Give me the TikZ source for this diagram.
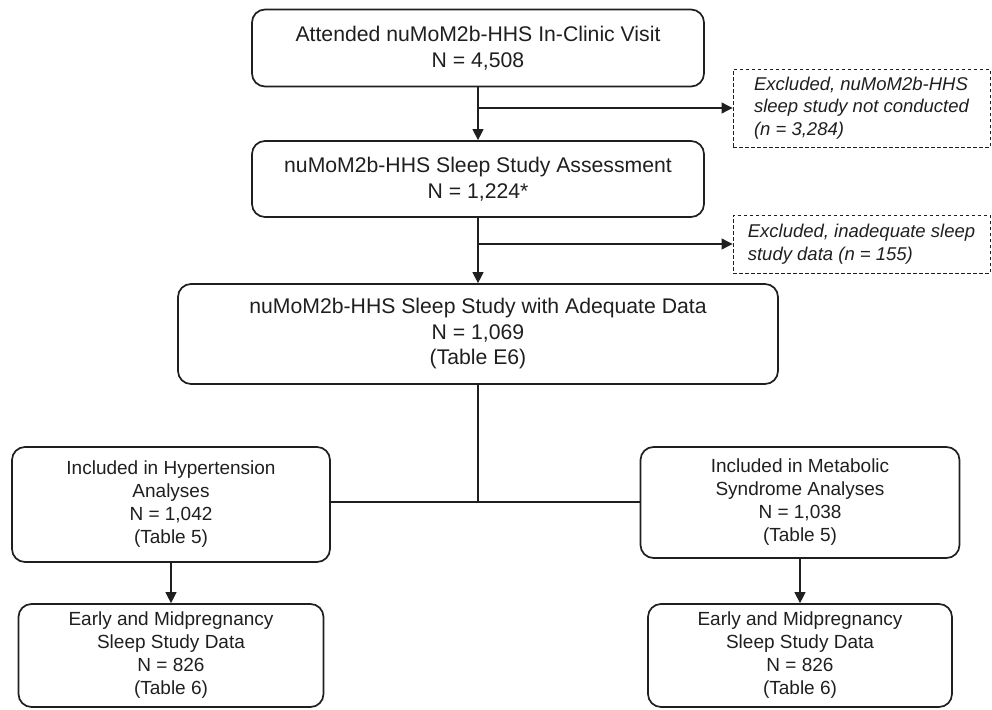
\documentclass[tikz,border=0pt]{standalone}
\usepackage{fontspec}
\setmainfont{Liberation Sans}
\usetikzlibrary{arrows.meta}
\begin{document}
\begin{tikzpicture}[x=1pt,y=-1pt,
  box/.style={draw=black!88, line width=1.7pt, rounded corners=13pt, inner sep=0pt, align=center, text=black!88},
  big/.style={font=\fontsize{21.2}{25.5}\selectfont},
  small/.style={font=\fontsize{19}{23}\selectfont},
  excl/.style={draw=black!88, line width=0.9pt, dash pattern=on 3.5pt off 2.5pt, inner sep=0pt, minimum width=257pt, align=left, text=black!88, font=\itshape\fontsize{18.5}{22.5}\selectfont},
  link/.style={draw=black!88, line width=1.1pt},
  arr/.style={link, -{Triangle[length=11pt,width=11pt]}}]
\useasboundingbox (0,0) rectangle (992,709);

\node[box,big,minimum width=452pt,minimum height=77pt] (visit) at (478,48)
  {Attended nuMoM2b-HHS In-Clinic Visit\\N = 4,508};
\node[box,big,minimum width=452pt,minimum height=76pt] (assess) at (478,179)
  {nuMoM2b-HHS Sleep Study Assessment\\N = 1,224*};
\node[box,big,minimum width=600pt,minimum height=100pt] (adequate) at (478,334)
  {nuMoM2b-HHS Sleep Study with Adequate Data\\N = 1,069\\(Table E6)};

\node[excl,minimum height=78pt] (ex1) at (861.5,108)
  {Excluded, nuMoM2b-HHS\\sleep study not conducted\\(n = 3,284)};
\node[excl,minimum height=58pt] (ex2) at (861.5,244)
  {Excluded, inadequate sleep\\study data (n = 155)};

\node[box,small,minimum width=318pt,minimum height=115pt] (hyp) at (171,504.5)
  {Included in Hypertension\\Analyses\\N = 1,042\\(Table 5)};
\node[box,small,minimum width=319pt,minimum height=111pt] (met) at (800,502.5)
  {Included in Metabolic\\Syndrome Analyses\\N = 1,038\\(Table 5)};
\node[box,small,minimum width=305pt,minimum height=103pt] (early1) at (171,655.5)
  {Early and Midpregnancy\\Sleep Study Data\\N = 826\\(Table 6)};
\node[box,small,minimum width=304pt,minimum height=103pt] (early2) at (800,655.5)
  {Early and Midpregnancy\\Sleep Study Data\\N = 826\\(Table 6)};

\coordinate (b1) at (478,108);
\coordinate (b2) at (478,244);
\coordinate (j) at (478,502);

\draw[arr] (visit.south) -- (assess.north);
\draw[arr] (b1) -- (ex1.west);
\draw[arr] (assess.south) -- (adequate.north);
\draw[arr] (b2) -- (ex2.west);
\draw[link] (adequate.south) -- (j);
\draw[link] (hyp.east |- j) -- (met.west |- j);
\draw[arr] (hyp.south) -- (early1.north);
\draw[arr] (met.south) -- (early2.north);
\end{tikzpicture}
\end{document}
